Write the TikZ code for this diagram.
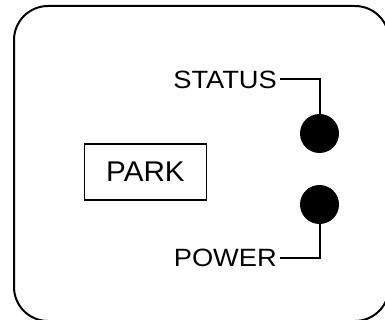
\documentclass[tikz,border=0pt]{standalone}
\usepackage{fontspec}
\setmainfont{Liberation Sans}
\newfontfamily\lblfont[FakeStretch=1.09]{Liberation Sans}
\newfontfamily\parkfont[FakeStretch=1.04]{Liberation Sans}
\begin{document}
\begin{tikzpicture}[x=1pt,y=-1pt,
  wire/.style={line width=2pt},
  lbl/.style={font=\lblfont\fontsize{25}{30}\selectfont, text height=17.9pt, text depth=0pt, inner ysep=0pt, inner xsep=3pt, anchor=east},
  lamp/.style={circle, fill=black, minimum size=39pt, inner sep=0pt},
  parkbox/.style={draw, line width=1.6pt, minimum width=122pt, minimum height=56pt, inner sep=0pt, font=\parkfont\fontsize{28.5}{34}\selectfont}]
\useasboundingbox (0,0) rectangle (385,320);
\clip (0,0) rectangle (385,320);
\draw[line width=2pt, rounded corners=34pt] (14,6) rectangle (389,321);
\node[parkbox] (park) at (145.5,172) {PARK};
\node[lamp] (s) at (319.5,133.5) {};
\node[lamp] (p) at (319.5,204.5) {};
\node[lbl] (st) at (280,79.3) {STATUS};
\node[lbl] (pw) at (280,258) {POWER};
\draw[wire] (st.east) -| (s.north);
\draw[wire] (pw.east) -| (p.south);
\end{tikzpicture}
\end{document}
